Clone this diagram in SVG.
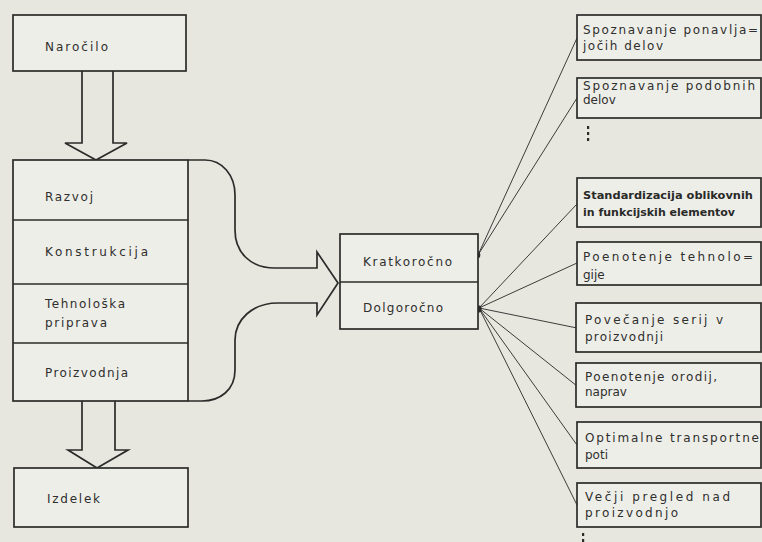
<svg xmlns="http://www.w3.org/2000/svg" width="762" height="542" viewBox="0 0 762 542">
<style>
.bg{fill:#e7e7e0}
.box{fill:#eeeee9;stroke:#2b2b29;stroke-width:1.7}
.ln{stroke:#2b2b29;stroke-width:1.7;fill:none}
.blk{stroke:#2b2b29;stroke-width:1.7;fill:#e7e7e0;stroke-linejoin:miter}
.c{stroke:#3c3c3a;stroke-width:1;fill:none}
.t{font-family:"DejaVu Sans","Liberation Sans",sans-serif;font-size:12px;fill:#2f2f2d}
.s{font-family:"DejaVu Sans Condensed","DejaVu Sans","Liberation Sans",sans-serif;font-size:10px;fill:#2a2a28;font-weight:bold}
.dot{fill:#2b2b29}
</style>
<rect class="bg" x="0" y="0" width="762" height="542"/>

<g id="connectors">
  <path class="blk" d="M82,71 L82,143 L65,143 L96,160 L127,143 L113,143 L113,71"/>
  <path class="blk" d="M82,401 L82,450 L68,450 L97,468 L128,450 L115,450 L115,401"/>
  <path class="blk" d="M188,160 L205,160 C222,160 235,175 235,195 L235,230 C235,252 250,268 275,268 L317,268 L317,252 L338,283 L317,315 L317,303 L278,303 C252,303 235,320 235,340 L235,370 C235,390 220,401 202,401 L188,401"/>
  <line class="c" x1="478" y1="255" x2="577" y2="38"/>
  <line class="c" x1="478" y1="255" x2="577" y2="98"/>
  <line class="c" x1="479" y1="308" x2="577" y2="204"/>
  <line class="c" x1="479" y1="308" x2="577" y2="263"/>
  <line class="c" x1="479" y1="308" x2="577" y2="328"/>
  <line class="c" x1="479" y1="308" x2="577" y2="386"/>
  <line class="c" x1="479" y1="308" x2="577" y2="445"/>
  <line class="c" x1="479" y1="308" x2="577" y2="505"/>
  <ellipse class="dot" cx="478.5" cy="255" rx="1.8" ry="3"/>
  <ellipse class="dot" cx="479.5" cy="309" rx="2" ry="3.5"/>
</g>

<g id="narocilo">
  <rect class="box" x="13" y="15" width="173" height="56"/>
  <text class="t" x="45" y="51" textLength="63" lengthAdjust="spacing">Naročilo</text>
</g>

<g id="faze">
  <rect class="box" x="13" y="160" width="175" height="241"/>
  <line class="ln" x1="13" y1="220" x2="188" y2="220"/>
  <line class="ln" x1="13" y1="284" x2="188" y2="284"/>
  <line class="ln" x1="13" y1="343" x2="188" y2="343"/>
  <text class="t" x="45" y="201" textLength="48" lengthAdjust="spacing">Razvoj</text>
  <text class="t" x="45" y="256" textLength="103" lengthAdjust="spacing">Konstrukcija</text>
  <text class="t" x="45" y="308" textLength="80" lengthAdjust="spacing">Tehnološka</text>
  <text class="t" x="45" y="327" textLength="62" lengthAdjust="spacing">priprava</text>
  <text class="t" x="45" y="377" textLength="83" lengthAdjust="spacing">Proizvodnja</text>
</g>

<g id="izdelek">
  <rect class="box" x="14" y="468" width="174" height="59"/>
  <text class="t" x="47" y="503" textLength="53" lengthAdjust="spacing">Izdelek</text>
</g>

<g id="rok">
  <rect class="box" x="340" y="234" width="138" height="95"/>
  <line class="ln" x1="340" y1="282" x2="478" y2="282"/>
  <text class="t" x="363" y="266" textLength="89" lengthAdjust="spacing">Kratkoročno</text>
  <text class="t" x="363" y="312" textLength="80" lengthAdjust="spacing">Dolgoročno</text>
</g>

<g id="r1">
  <rect class="box" x="577" y="15" width="184" height="45"/>
  <text class="t" x="583" y="34" textLength="175" lengthAdjust="spacing">Spoznavanje ponavlja=</text>
  <text class="t" x="583" y="50" textLength="80" lengthAdjust="spacing">jočih delov</text>
</g>

<g id="r2">
  <rect class="box" x="577" y="78" width="184" height="40"/>
  <text class="t" x="583" y="90" textLength="172" lengthAdjust="spacing">Spoznavanje podobnih</text>
  <text class="t" x="583" y="104">delov</text>
</g>

<g id="dots1">
  <rect class="dot" x="587" y="126" width="2.2" height="3"/>
  <rect class="dot" x="587" y="132" width="2.2" height="3"/>
  <rect class="dot" x="587" y="138" width="2.2" height="3"/>
</g>

<g id="r3">
  <rect class="box" x="577" y="178" width="184" height="49"/>
  <text class="s" x="583" y="199" textLength="170" lengthAdjust="spacingAndGlyphs">Standardizacija oblikovnih</text>
  <text class="s" x="583" y="216" textLength="152" lengthAdjust="spacingAndGlyphs">in funkcijskih elementov</text>
</g>

<g id="r4">
  <rect class="box" x="577" y="242" width="184" height="43"/>
  <text class="t" x="583" y="261" textLength="170" lengthAdjust="spacing">Poenotenje tehnolo=</text>
  <text class="t" x="583" y="279">gije</text>
</g>

<g id="r5">
  <rect class="box" x="576" y="303" width="185" height="49"/>
  <text class="t" x="585" y="324" textLength="138" lengthAdjust="spacing">Povečanje serij v</text>
  <text class="t" x="585" y="341" textLength="78" lengthAdjust="spacing">proizvodnji</text>
</g>

<g id="r6">
  <rect class="box" x="576" y="363" width="185" height="44"/>
  <text class="t" x="585" y="381" textLength="132" lengthAdjust="spacing">Poenotenje orodij,</text>
  <text class="t" x="585" y="396">naprav</text>
</g>

<g id="r7">
  <rect class="box" x="577" y="422" width="184" height="46"/>
  <text class="t" x="585" y="442" textLength="174" lengthAdjust="spacing">Optimalne transportne</text>
  <text class="t" x="585" y="459">poti</text>
</g>

<g id="r8">
  <rect class="box" x="577" y="483" width="184" height="44"/>
  <text class="t" x="585" y="501" textLength="145" lengthAdjust="spacing">Večji pregled nad</text>
  <text class="t" x="585" y="517" textLength="93" lengthAdjust="spacing">proizvodnjo</text>
</g>

<g id="dots2">
  <rect class="dot" x="582" y="533" width="2.2" height="3"/>
  <rect class="dot" x="582" y="539" width="2.2" height="3"/>
</g>
</svg>
